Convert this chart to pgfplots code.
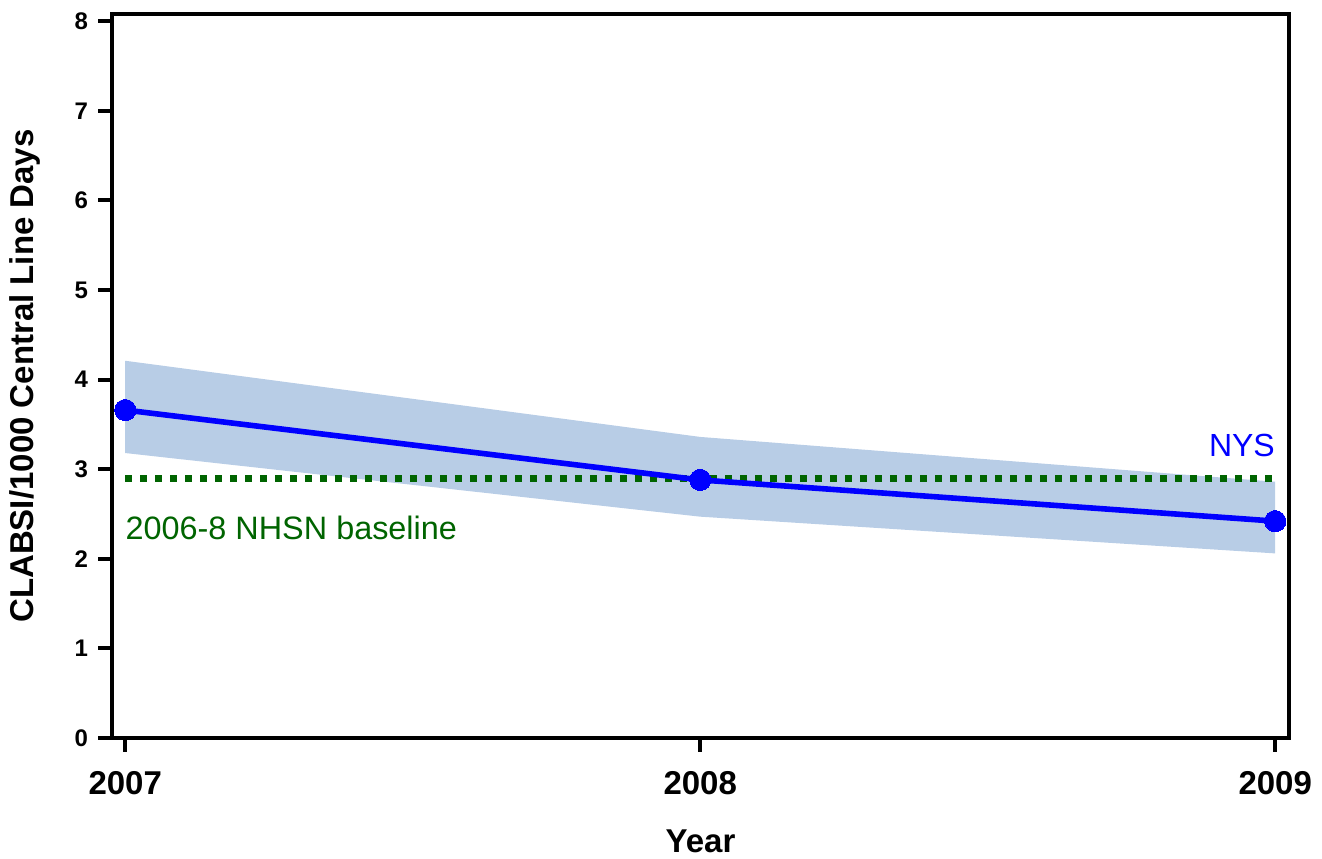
\documentclass[border=0pt]{standalone}
\usepackage{pgfplots}
\pgfplotsset{compat=1.18}
\usepackage{fontspec}
\setmainfont{Liberation Sans}
\definecolor{band}{HTML}{B8CDE6}
\definecolor{dkgreen}{HTML}{006400}
\begin{document}
\begin{tikzpicture}
\begin{axis}[
  scale only axis,
  width=588.5pt, height=362pt,
  xmin=2006.977, xmax=2009.024,
  ymin=0, ymax=8.08,
  axis line style={line width=2pt},
  xtick={2007,2008,2009},
  xticklabels={2007,2008,2009},
  ytick={0,1,2,3,4,5,6,7,8},
  yticklabels={0,1,2,3,4,5,6,7,8},
  tick align=outside,
  xtick pos=bottom, ytick pos=left,
  major tick length=7pt,
  tick style={line width=2pt, black},
  x tick label style={font=\fontsize{16.5}{18}\selectfont\bfseries, yshift=-6pt},
  y tick label style={font=\fontsize{12}{14}\selectfont\bfseries, xshift=-1.5pt},
  xlabel={Year},
  ylabel={CLABSI/1000 Central Line Days},
  label style={font=\fontsize{16.5}{18}\selectfont\bfseries},
  xlabel style={at={([yshift=-57.5pt]axis description cs:0.5,0)}, anchor=base},
  ylabel style={at={([xshift=-39pt]axis description cs:0,0.5)}, anchor=base, rotate=0},
  clip=false,
]
\addplot[fill=band, draw=none] coordinates {
  (2007,4.21) (2008,3.36) (2009,2.86) (2009,2.06) (2008,2.47) (2007,3.18)
} -- cycle;
\addplot[dkgreen, line width=3.5pt, dash pattern=on 3.5pt off 4pt] coordinates {
  (2007,2.90) (2009,2.90)
};
\addplot[blue, line width=2.8pt, mark=*, mark size=5.3pt, mark options={fill=blue, draw=blue, line width=0pt}] coordinates {
  (2007,3.66) (2008,2.88) (2009,2.42)
};
\node[anchor=east, inner sep=0pt, text=blue, font=\fontsize{16}{18}\selectfont] at (axis cs:2009,3.27) {NYS};
\node[anchor=west, inner sep=0pt, text=dkgreen, font=\fontsize{16.2}{18}\selectfont] at (axis cs:2007,2.35) {2006-8 NHSN baseline};
\end{axis}
\pgfresetboundingbox
\path ([shift={(-56pt,-60.5pt)}]current axis.south west) rectangle ([shift={(16.5pt,7pt)}]current axis.north east);
\end{tikzpicture}
\end{document}
